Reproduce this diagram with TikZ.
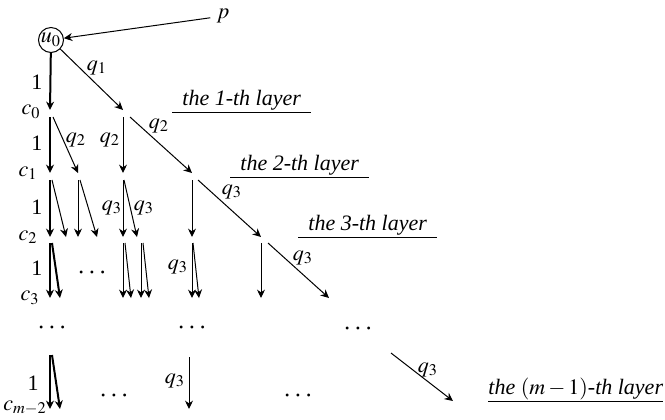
\documentclass[tikz,border=0pt]{standalone}
\usepackage{mathptmx}
\usepackage{fontspec}
\setmainfont{Liberation Serif}
\usetikzlibrary{arrows.meta}

\begin{document}
\begin{tikzpicture}[x=0.5pt,y=-0.5pt,
    font=\fontsize{11}{13}\selectfont,
    arr/.style={-{Stealth[length=4.2pt,width=4pt]},line width=0.5pt},
    thickarr/.style={arr,line width=1pt},
    lbl/.style={inner sep=0pt},
    dots/.style={inner sep=0pt,font=\fontsize{14}{16}\selectfont},
    layer/.style={anchor=south west,inner xsep=5pt,inner ysep=0.5pt,font=\fontsize{11}{13}\selectfont\itshape}]
    \useasboundingbox (0,0) rectangle (665,419);
    % Root and the point p
    \node[draw,circle,minimum size=12.5pt,inner sep=0pt,line width=0.5pt] (u0) at (51,40) {$u_0$};
    \node[inner sep=3pt] (p) at (223,16) {$p$};
    \coordinate (e0a) at (50,110);
    \coordinate (e0b) at (123,110);
    % Layer 1
    \coordinate (s1a) at (50,117);  \coordinate (e1a) at (50,173);
    \coordinate (s1b) at (53,117);  \coordinate (e1b) at (78,173);
    \coordinate (s1c) at (123,117); \coordinate (e1c) at (123,173);
    \coordinate (s1d) at (130,117); \coordinate (e1d) at (192,173);
    % Layer 2
    \coordinate (s2a) at (50,180);  \coordinate (e2a) at (50,237);
    \coordinate (s2b) at (52,180);  \coordinate (e2b) at (66,237);
    \coordinate (s2c) at (78,180);  \coordinate (e2c) at (78,237);
    \coordinate (s2d) at (80,180);  \coordinate (e2d) at (97,237);
    \coordinate (s2e) at (123,180); \coordinate (e2e) at (123,237);
    \coordinate (s2f) at (124,180); \coordinate (e2f) at (137,237);
    \coordinate (s2g) at (192,180); \coordinate (e2g) at (192,237);
    \coordinate (s2h) at (198,180); \coordinate (e2h) at (261,237);
    % Layer 3
    \coordinate (s3a) at (50,243);  \coordinate (e3a) at (50,298);
    \coordinate (s3b) at (52,243);  \coordinate (e3b) at (60,298);
    \coordinate (s3c) at (123,243); \coordinate (e3c) at (123,298);
    \coordinate (s3d) at (125,243); \coordinate (e3d) at (131,298);
    \coordinate (s3e) at (141,243); \coordinate (e3e) at (141,298);
    \coordinate (s3f) at (143,243); \coordinate (e3f) at (149,298);
    \coordinate (s3g) at (192,243); \coordinate (e3g) at (192,298);
    \coordinate (s3h) at (193,243); \coordinate (e3h) at (199,298);
    \coordinate (s3i) at (261,243); \coordinate (e3i) at (261,298);
    \coordinate (s3j) at (268,243); \coordinate (e3j) at (329,298);
    % Layer m-1
    \coordinate (s4a) at (50,355);  \coordinate (e4a) at (50,409);
    \coordinate (s4b) at (52,355);  \coordinate (e4b) at (60,409);
    \coordinate (s4c) at (189,357); \coordinate (e4c) at (189,409);
    \coordinate (s4d) at (391,353); \coordinate (e4d) at (453,401);
    % Arrows
    \draw[arr] (p) -- (u0);
    \draw[thickarr] (u0) -- (e0a);
    \draw[arr] (u0) -- (e0b);
    \foreach \n in {1a,2a,3a,3b,4a,4b}
        \draw[thickarr] (s\n) -- (e\n);
    \foreach \n in {1b,1c,1d,2b,2c,2d,2e,2f,2g,2h,3c,3d,3e,3f,3g,3h,3i,3j,4c,4d}
        \draw[arr] (s\n) -- (e\n);
    % Edge labels
    \node[lbl] (one0) at (37,82) {1};
    \node[lbl] (one1) at (37,143) {1};
    \node[lbl] (one2) at (37,207) {1};
    \node[lbl] (one3) at (37,268) {1};
    \node[lbl] (one4) at (33,383) {1};
    \node[lbl] (q1) at (97,68) {$q_1$};
    \node[lbl] (q2a) at (76,140) {$q_2$};
    \node[lbl] (q2b) at (110,140) {$q_2$};
    \node[lbl] (q2c) at (159,126) {$q_2$};
    \node[lbl] (q3a) at (112,208) {$q_3$};
    \node[lbl] (q3b) at (144,208) {$q_3$};
    \node[lbl] (q3c) at (232,192) {$q_3$};
    \node[lbl] (q3d) at (178,267) {$q_3$};
    \node[lbl] (q3e) at (303,258) {$q_3$};
    \node[lbl] (q3f) at (175,381) {$q_3$};
    \node[lbl] (q3g) at (428,370) {$q_3$};
    % Column labels
    \node[lbl] (c0) at (31,112) {$c_0$};
    \node[lbl] (c1) at (28,173) {$c_1$};
    \node[lbl] (c2) at (28,237) {$c_2$};
    \node[lbl] (c3) at (30,298) {$c_3$};
    \node[lbl] (cm) at (25,408) {$c_{m-2}$};
    % Dots
    \node[dots] (d1) at (92,273) {$\cdots$};
    \node[dots] (d2) at (52,328) {$\cdots$};
    \node[dots] (d3) at (192,328) {$\cdots$};
    \node[dots] (d4) at (358,329) {$\cdots$};
    \node[dots] (d5) at (114,396) {$\cdots$};
    \node[dots] (d6) at (298,396) {$\cdots$};
    % Layer names
    \node[layer] (L1) at (172,112) {the 1-th layer};
    \node[layer] (L2) at (230,177) {the 2-th layer};
    \node[layer] (L3) at (298,237) {the 3-th layer};
    \node[layer,inner xsep=0pt] (Lm) at (488,401) {the $\left(m-1\right)$-th layer};
    \foreach \n in {L1,L2,L3,Lm}
        \draw[line width=0.5pt] (\n.south west) -- (\n.south east);
\end{tikzpicture}
\end{document}
